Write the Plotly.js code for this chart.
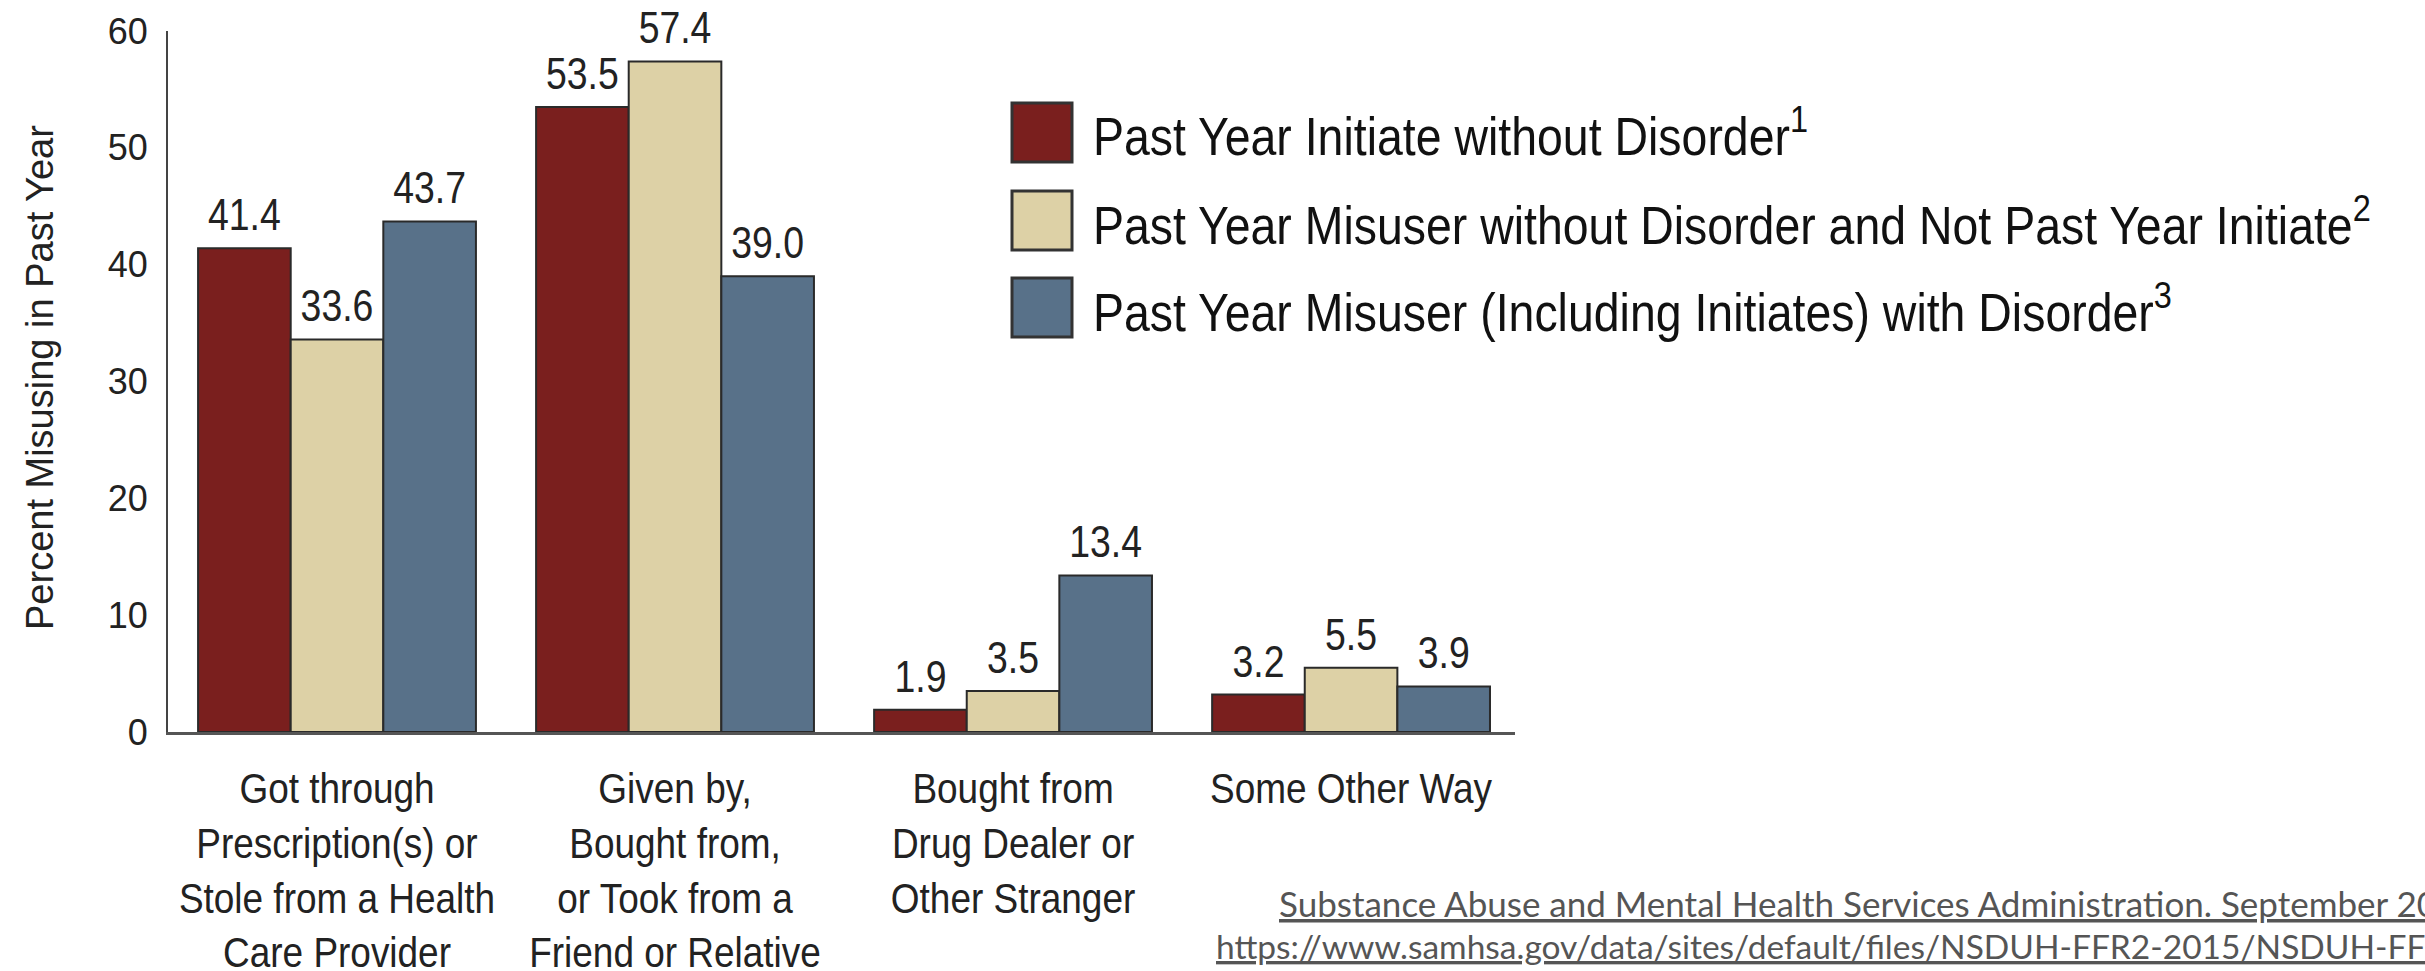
<!DOCTYPE html>
<html><head><meta charset="utf-8">
<script src="https://cdn.plot.ly/plotly-3.0.1.min.js"></script>
<style>html,body{margin:0;padding:0;background:#fff;overflow:hidden}#chart{width:2425px;height:971px}</style>
</head><body><div id="chart"></div>
<script>
// ---- data ----
const categories = [
  "Got through<br>Prescription(s) or<br>Stole from a Health<br>Care Provider",
  "Given by,<br>Bought from,<br>or Took from a<br>Friend or Relative",
  "Bought from<br>Drug Dealer or<br>Other Stranger",
  "Some Other Way"
];
const seriesNames = [
  "Past Year Initiate without Disorder<sup>1</sup>",
  "Past Year Misuser without Disorder and Not Past Year Initiate<sup>2</sup>",
  "Past Year Misuser (Including Initiates) with Disorder<sup>3</sup>"
];
const initiateWithoutDisorder = [41.4, 53.5, 1.9, 3.2];
const misuserWithoutDisorder = [33.6, 57.4, 3.5, 5.5];
const misuserWithDisorder = [43.7, 39.0, 13.4, 3.9];
const yTickValues = [0, 10, 20, 30, 40, 50, 60];
const yAxisTitle = "Percent Misusing in Past Year";
const sourceLines = [
  "Substance Abuse and Mental Health Services Administration. September 2016.",
  "https://www.samhsa.gov/data/sites/default/files/NSDUH-FFR2-2015/NSDUH-FFR2-2015.htm"
];

// ---- style ----
const colors = ["#7a1f1e", "#ddd1a6", "#587189"];
const LIB = "'Liberation Sans', Arial, sans-serif";
const TXT = "#222222";

const L = 168, T = 31, W = 1347, H = 701, FW = 2425, FH = 971;
const px = x => (x - L) / W;
const py = y => (T + H - y) / H;

const seriesValues = [initiateWithoutDisorder, misuserWithoutDisorder, misuserWithDisorder];
const traces = seriesValues.map((vals, i) => ({
  type: "bar",
  name: seriesNames[i],
  x: categories,
  y: vals,
  text: vals.map(v => v.toFixed(1)),
  textposition: "outside",
  cliponaxis: false,
  textfont: {family: LIB, size: 44, color: TXT},
  marker: {color: colors[i], line: {color: "#2a2a2a", width: 2}},
  hoverinfo: "skip",
  showlegend: false
}));

const shapes = [];
const annotations = [];
// legend (drawn from the series names)
const legTop = [103, 191, 278];
seriesNames.forEach((n, i) => {
  shapes.push({type: "rect", xref: "paper", yref: "paper",
    x0: px(1012), x1: px(1072), y0: py(legTop[i] + 59), y1: py(legTop[i]),
    fillcolor: colors[i], line: {color: "#333333", width: 3}});
  annotations.push({xref: "paper", yref: "paper", x: px(1091), y: py(legTop[i] + 29.5),
    xanchor: "left", yanchor: "middle", showarrow: false, text: n,
    font: {family: LIB, size: 54, color: "#111"}});
});
// y-axis title
annotations.push({xref: "paper", yref: "paper", x: px(40), y: py(378), textangle: -90,
  xanchor: "center", yanchor: "middle", showarrow: false, text: yAxisTitle,
  font: {family: LIB, size: 38, color: TXT}});
// source
const srcX = [1277, 1214], srcY = [903, 946], srcSize = [35, 33.5];
sourceLines.forEach((s, i) => {
  annotations.push({xref: "paper", yref: "paper", x: px(srcX[i]), y: py(srcY[i]),
    xanchor: "left", yanchor: "middle", showarrow: false, text: "<u>" + s + "</u>",
    font: {family: "Lato, 'Open Sans', sans-serif", size: srcSize[i], color: "#555555"}});
});

const layout = {
  width: FW, height: FH,
  margin: {l: L, t: T, r: FW - L - W, b: FH - T - H, pad: 0},
  paper_bgcolor: "#ffffff", plot_bgcolor: "#ffffff",
  barmode: "group", bargap: 0.178, bargroupgap: 0,
  showlegend: false,
  xaxis: {
    type: "category", range: [-0.5, 3.485], showgrid: false, zeroline: false,
    showline: true, linecolor: "#555555", linewidth: 3, ticks: "", tickangle: 0,
    ticklabelstandoff: 18,
    tickfont: {family: LIB, size: 42, color: TXT}, fixedrange: true
  },
  yaxis: {
    range: [0, 60], tickvals: yTickValues, showgrid: false, zeroline: false,
    showline: true, linecolor: "#444444", linewidth: 2, ticks: "",
    ticklabelstandoff: 11,
    tickfont: {family: LIB, size: 36, color: TXT}, fixedrange: true
  },
  shapes: shapes,
  annotations: annotations
};

// narrow the condensed-style texts horizontally around a pivot
function squeeze(el, s, mode, dy) {
  const bb = el.getBBox();
  const p = mode === "left" ? bb.x : (mode === "right" ? bb.x + bb.width : bb.x + bb.width / 2);
  const t = el.getAttribute("transform") || "";
  const pre = dy ? "translate(0," + dy + ") " : "";
  el.setAttribute("transform", pre + t + " translate(" + p + ",0) scale(" + s + ",1) translate(" + (-p) + ",0)");
}

Plotly.newPlot("chart", traces, layout, {staticPlot: true, displayModeBar: false}).then(gd => {
  gd.querySelectorAll(".xtick text").forEach(el => squeeze(el, 0.88, "middle"));
  gd.querySelectorAll("text.bartext").forEach(el => squeeze(el, 0.85, "middle", -6));
  gd.querySelectorAll("g.annotation").forEach(g => {
    const idx = +g.getAttribute("data-index");
    if (idx < seriesNames.length) {
      const el = g.querySelector("text.annotation-text");
      if (el) squeeze(el, 0.86, "left");
    }
  });
});
</script></body></html>
